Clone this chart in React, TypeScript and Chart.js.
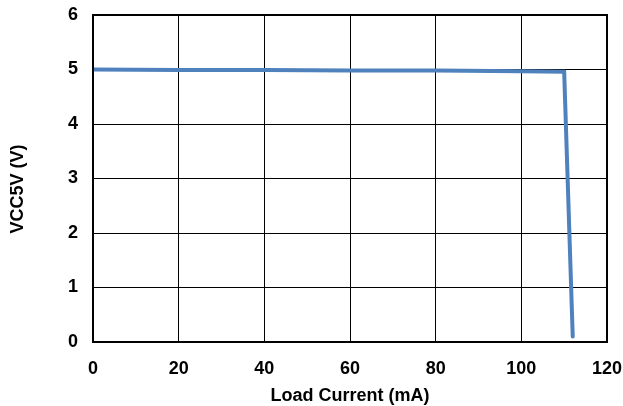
import React, { useEffect, useRef } from "react";
import { Chart, registerables } from "chart.js";

Chart.register(...registerables);

const loadCurrent = [0, 20, 40, 60, 80, 100, 110, 112];
const vcc5v = [5.0, 4.99, 4.99, 4.98, 4.98, 4.97, 4.96, 0.1];
const xTicks = [0, 20, 40, 60, 80, 100, 120];
const yTicks = [0, 1, 2, 3, 4, 5, 6];
const xTitle = "Load Current (mA)";
const yTitle = "VCC5V (V)";

export default function App() {
  const ref = useRef<HTMLCanvasElement>(null);
  useEffect(() => {
    const ctx = ref.current!;
    const font = { family: "'Liberation Sans', Arial, sans-serif", size: 18, weight: "bold" as const };
    const chart = new Chart(ctx, {
      type: "scatter",
      data: {
        datasets: [
          {
            data: loadCurrent.map((x, i) => ({ x, y: vcc5v[i] })),
            showLine: true,
            borderColor: "#4F81BD",
            backgroundColor: "#4F81BD",
            borderWidth: 4,
            pointRadius: 0,
            borderCapStyle: "round",
            borderJoinStyle: "miter",
          },
        ],
      },
      options: {
        animation: false,
        responsive: false,
        devicePixelRatio: 1,
        layout: { padding: { left: 0, top: 15, right: 16, bottom: 0 } },
        plugins: { legend: { display: false }, tooltip: { enabled: false } },
        scales: {
          x: {
            type: "linear",
            min: 0,
            max: 120,
            afterBuildTicks: (s: any) => {
              s.ticks = xTicks.map((v) => ({ value: v }));
            },
            afterFit: (s: any) => {
              s.height = 406 - 15 - 327;
              s.paddingLeft = 0;
              s.paddingRight = 0;
            },
            grid: { color: "#000", lineWidth: 1, drawTicks: false },
            border: { color: "#000", width: 2 },
            ticks: { color: "#000", font, padding: 16 },
            title: { display: false, text: xTitle },
          },
          y: {
            type: "linear",
            min: 0,
            max: 6,
            afterBuildTicks: (s: any) => {
              s.ticks = yTicks.map((v) => ({ value: v }));
            },
            afterFit: (s: any) => {
              s.width = 93;
              s.paddingTop = 0;
              s.paddingBottom = 0;
            },
            grid: { color: "#000", lineWidth: 1, drawTicks: false },
            border: { color: "#000", width: 2 },
            ticks: { color: "#000", font, padding: 15 },
            title: { display: false, text: yTitle },
          },
        },
      },
      plugins: [
        {
          id: "frame",
          afterDraw: (c: any) => {
            const { left, top, right, bottom } = c.chartArea;
            const g = c.ctx;
            g.save();
            g.strokeStyle = "#000";
            g.lineWidth = 2;
            g.strokeRect(left, top, right - left, bottom - top);
            g.fillStyle = "#000";
            g.font = "bold 18px 'Liberation Sans', Arial, sans-serif";
            g.textAlign = "center";
            g.textBaseline = "middle";
            g.fillText(xTitle, (left + right) / 2, 396);
            g.translate(18, 189);
            g.rotate(-Math.PI / 2);
            g.fillText(yTitle, 0, 0);
            g.restore();
          },
        },
      ],
    });
    return () => chart.destroy();
  }, []);
  return (
    <div style={{ position: "fixed", left: 0, top: 0, width: 623, height: 406, background: "#fff" }}>
      <canvas ref={ref} width={623} height={406} />
    </div>
  );
}
